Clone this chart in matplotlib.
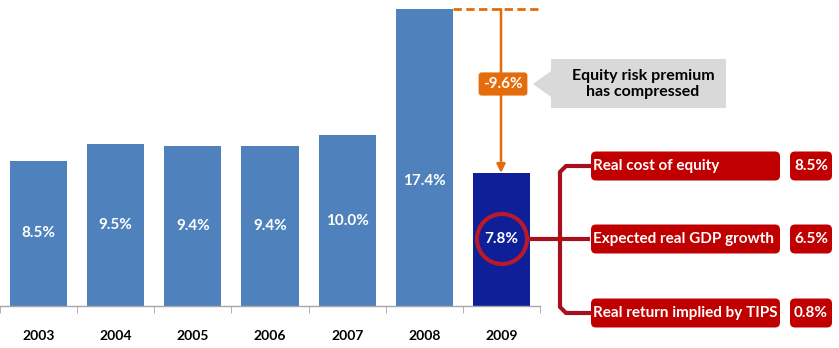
import matplotlib.pyplot as plt
from matplotlib.patches import FancyBboxPatch, Circle, Polygon
import numpy as np

plt.rcParams["font.family"] = ["Lato", "DejaVu Sans"]

# data
years = ["2003", "2004", "2005", "2006", "2007", "2008", "2009"]
cost_of_equity = [8.5, 9.5, 9.4, 9.4, 10.0, 17.4, 7.8]
components = ["Real cost of equity", "Expected real GDP growth", "Real return implied by TIPS"]
component_values = [8.5, 6.5, 0.8]
premium_change = cost_of_equity[-1] - cost_of_equity[-2]   # -9.6

BLUE = "#4F81BD"
NAVY = "#0E1F98"
ORANGE = "#E46C0A"
RED = "#C00000"
DARKRED = "#A8101E"

W, H = 839, 348
fig = plt.figure(figsize=(W / 100, H / 100), dpi=100)

# bar axes: baseline at 306 px from the top, 540 px wide
ax = fig.add_axes([0, 42 / H, 540 / W, 306 / H])
x = np.arange(len(years))
colors = [BLUE] * (len(years) - 1) + [NAVY]
ax.bar(x, cost_of_equity, width=0.74, color=colors, zorder=2)
ax.set_xlim(-0.5, len(years) - 0.5)
ax.set_ylim(0, 306 / 17.06)
ax.set_yticks([])
for s in ["top", "left", "right"]:
    ax.spines[s].set_visible(False)
ax.spines["bottom"].set_color("#A6A6A6")
ax.spines["bottom"].set_linewidth(1.0)
ax.set_xticks(x)
ax.set_xticklabels(years, fontsize=10, fontweight="bold")
ax.tick_params(axis="x", length=0, pad=17)
ax.set_xticks(np.arange(len(years) + 1) - 0.5, minor=True)
ax.tick_params(axis="x", which="minor", length=5, color="#A6A6A6", direction="out")

for i, v in enumerate(cost_of_equity):
    ypos = v / 2 if i != 5 else v * 0.42
    ax.text(i, ypos, f"{v:.1f}%", ha="center", va="center", color="white",
            fontsize=11, fontweight="bold", zorder=3)

# overlay in pixel units for the annotations
ov = fig.add_axes([0, 0, 1, 1], facecolor="none")
ov.set_xlim(0, W)
ov.set_ylim(H, 0)
ov.axis("off")

def px_y(v):
    return 306 - v * 17.06

# dashed level of 2008 and the drop to 2009
y08 = px_y(cost_of_equity[-2])
y09 = px_y(cost_of_equity[-1])
ov.plot([453, 540], [y08, y08], color=ORANGE, lw=2, ls=(0, (3, 1.6)))
ov.annotate("", xy=(501, y09), xytext=(501, y08),
            arrowprops=dict(arrowstyle="-|>,head_length=0.5,head_width=0.25",
                            color=ORANGE, lw=1.8, shrinkA=0, shrinkB=0))
ov.text(503, 84, f"{premium_change:.1f}%", ha="center", va="center", color="white",
        fontsize=11, fontweight="bold",
        bbox=dict(boxstyle="round,pad=0.3,rounding_size=0.2", fc=ORANGE, ec="none"))

# grey callout arrow
call = Polygon([[533, 84], [551, 71], [551, 59], [726, 59], [726, 108],
                [551, 108], [551, 97]], closed=True, fc="#D9D9D9", ec="none")
ov.add_patch(call)
ov.text(643, 84, "Equity risk premium\nhas compressed", ha="center", va="center",
        fontsize=11.5, fontweight="bold", color="black", linespacing=1.25)

# circle around the 2009 value
ov.add_patch(Circle((502, 239), 25, fc="none", ec="#B8192B", lw=3, zorder=5))

# bracket linking to the components
ov.plot([527, 590], [239, 239], color=DARKRED, lw=3, solid_capstyle="butt")
ov.plot([590, 566, 560, 560, 566, 590], [166, 166, 172, 307, 313, 313],
        color=DARKRED, lw=3, solid_joinstyle="round")

box_y = [166, 239, 313]
for lab, val, yc in zip(components, component_values, box_y):
    ov.add_patch(FancyBboxPatch((591, yc - 14.5), 189, 29,
                                boxstyle="round,pad=0,rounding_size=5",
                                fc=RED, ec="none"))
    ov.add_patch(FancyBboxPatch((790, yc - 14.5), 42, 29,
                                boxstyle="round,pad=0,rounding_size=5",
                                fc=RED, ec="none"))
    ov.text(593, yc, lab, ha="left", va="center", color="white",
            fontsize=11, fontweight="bold")
    ov.text(811, yc, f"{val:.1f}%", ha="center", va="center", color="white",
            fontsize=11, fontweight="bold")

fig.savefig("out.png", dpi=100)
